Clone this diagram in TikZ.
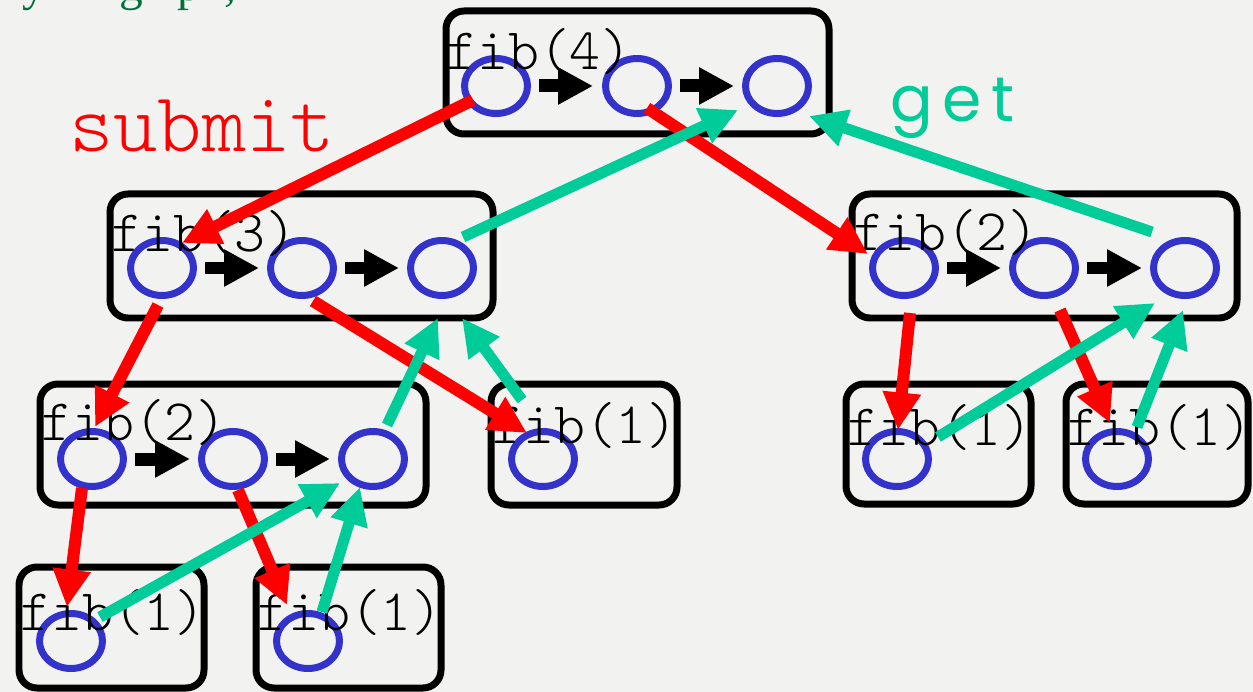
\documentclass[tikz,border=0pt]{standalone}
\usepackage{fontspec}
\usetikzlibrary{arrows.meta,shapes.geometric,calc}
\newfontfamily\getfnt[LetterSpace=15]{Poppins}
\newfontfamily\serfnt{Liberation Serif}
\newfontfamily\lmlight{Latin Modern Mono Light}
\definecolor{bg}{RGB}{242,242,240}
\definecolor{cblue}{RGB}{51,51,204}
\definecolor{cred}{RGB}{255,0,0}
\definecolor{cgreen}{RGB}{0,204,153}
\definecolor{dgreen}{RGB}{0,112,60}
\begin{document}
\begin{tikzpicture}[x=0.02cm,y=-0.02cm,
 ell/.style={ellipse, draw=cblue, line width=0.14cm, minimum width=1.26cm, minimum height=1.1cm, inner sep=0pt},
 fbox/.style={draw=black, line width=0.14cm, rounded corners=0.36cm},
 lbl/.style={anchor=base west, inner sep=0pt, font=\lmlight\fontsize{33.5pt}{35pt}\selectfont},
 frag/.style={anchor=base west, inner sep=0pt, text=dgreen, font=\serfnt\fontsize{27pt}{30pt}\selectfont},
 blk/.style={line width=0.26cm, -{Triangle[length=0.7cm,width=0.7cm]}},
 subarr/.style={cred, line width=0.24cm, -{Triangle[length=0.75cm,width=0.72cm]}},
 getarr/.style={cgreen, line width=0.22cm, -{Triangle[length=0.75cm,width=0.72cm]}},
]
\fill[bg] (0,0) rectangle (1253,692);
\useasboundingbox (0,0) rectangle (1253,692);

% cut-off text at the top
\node[frag] (fr1) at (22,1) {y};
\node[frag] (fr2) at (119,1) {g};
\node[frag] (fr3) at (177,1) {p};
\node[frag] (fr4) at (224,1) {,};

% boxes
\draw[fbox] (446,11) rectangle (829,134);
\draw[fbox] (110,194) rectangle (493,318);
\draw[fbox] (852,194) rectangle (1237,318);
\draw[fbox] (40,384) rectangle (426,505);
\draw[fbox] (491,384) rectangle (677,505);
\draw[fbox] (846,384) rectangle (1031,504);
\draw[fbox] (1066,384) rectangle (1248,504);
\draw[fbox] (19,567) rectangle (204,688);
\draw[fbox] (256,567) rectangle (441,688);

% circles
\node[ell] (c41) at (496,86) {};
\node[ell] (c42) at (637,86) {};
\node[ell] (c43) at (777,86) {};
\node[ell] (c31) at (162,268) {};
\node[ell] (c32) at (302,268) {};
\node[ell] (c33) at (442,268) {};
\node[ell] (cR1) at (904,268) {};
\node[ell] (cR2) at (1044,268) {};
\node[ell] (cR3) at (1185,268) {};
\node[ell] (cL1) at (92,459) {};
\node[ell] (cL2) at (233,459) {};
\node[ell] (cL3) at (373,459) {};
\node[ell] (cM) at (543,459) {};
\node[ell] (cA) at (897,459) {};
\node[ell] (cB) at (1117,459) {};
\node[ell] (cBL1) at (71,641) {};
\node[ell] (cBL2) at (308,641) {};

% labels
\node[lbl] (t4) at (446,70) {fib(4)};
\node[lbl] (t3) at (111,252) {fib(3)};
\node[lbl] (t2r) at (853,251) {fib(2)};
\node[lbl] (t2l) at (41,440) {fib(2)};
\node[lbl] (t1m) at (492,443) {fib(1)};
\node[lbl] (t1a) at (847,445) {fib(1)};
\node[lbl] (t1b) at (1067,445) {fib(1)};
\node[lbl] (t1c) at (20,630) {fib(1)};
\node[lbl] (t1d) at (257,630) {fib(1)};

\node[anchor=base west, inner sep=0pt, text=cred, font=\lmlight\fontsize{48pt}{50pt}\selectfont] (submit) at (69,152) {submit};
\node[anchor=base west, inner sep=0pt, text=cgreen, font=\getfnt\fontsize{36pt}{40pt}\selectfont] (get) at (890,122) {get};

% sequence arrows
\draw[blk] ($(c41)+(43,0)$) -- ($(c42)+(-44,0)$);
\draw[blk] ($(c42)+(43,0)$) -- ($(c43)+(-43,0)$);
\draw[blk] ($(c31)+(43,0)$) -- ($(c32)+(-43,0)$);
\draw[blk] ($(c32)+(43,0)$) -- ($(c33)+(-43,0)$);
\draw[blk] ($(cR1)+(43,0)$) -- ($(cR2)+(-43,0)$);
\draw[blk] ($(cR2)+(43,0)$) -- ($(cR3)+(-43,0)$);
\draw[blk] ($(cL1)+(43,0)$) -- ($(cL2)+(-43,0)$);
\draw[blk] ($(cL2)+(43,0)$) -- ($(cL3)+(-43,0)$);

% submit arrows
\draw[subarr] ($(c41)+(-23,14)$) -- ($(c31)+(20,-25)$);
\draw[subarr] ($(c42)+(10,22)$) -- ($(cR1)+(-36,-14)$);
\draw[subarr] ($(c31)+(-4,37)$) -- ($(cL1)+(3,-32)$);
\draw[subarr] ($(c32)+(11,33)$) -- ($(cM)+(-16,-26)$);
\draw[subarr] ($(cL1)+(-10,29)$) -- ($(cBL1)+(-4,-34)$);
\draw[subarr] ($(cL2)+(5,31)$) -- ($(cBL2)+(-21,-36)$);
\draw[subarr] ($(cR1)+(6,45)$) -- ($(cA)+(1,-29)$);
\draw[subarr] ($(cR2)+(16,42)$) -- ($(cB)+(-7,-36)$);

% get arrows
\draw[getarr] ($(c33)+(21,-31)$) -- ($(c43)+(-39,24)$);
\draw[getarr] ($(cR3)+(-33,-36)$) -- ($(c43)+(32,30)$);
\draw[getarr] ($(cL3)+(14,-34)$) -- ($(c33)+(-4,50)$);
\draw[getarr] ($(cM)+(-21,-59)$) -- ($(c33)+(20,50)$);
\draw[getarr] ($(cBL1)+(29,-24)$) -- ($(cL3)+(-33,24)$);
\draw[getarr] ($(cBL2)+(14,-29)$) -- ($(cL3)+(-13,28)$);
\draw[getarr] ($(cA)+(41,-22)$) -- ($(cR3)+(-30,35)$);
\draw[getarr] ($(cB)+(20,-32)$) -- ($(cR3)+(-2,42)$);
\end{tikzpicture}
\end{document}
